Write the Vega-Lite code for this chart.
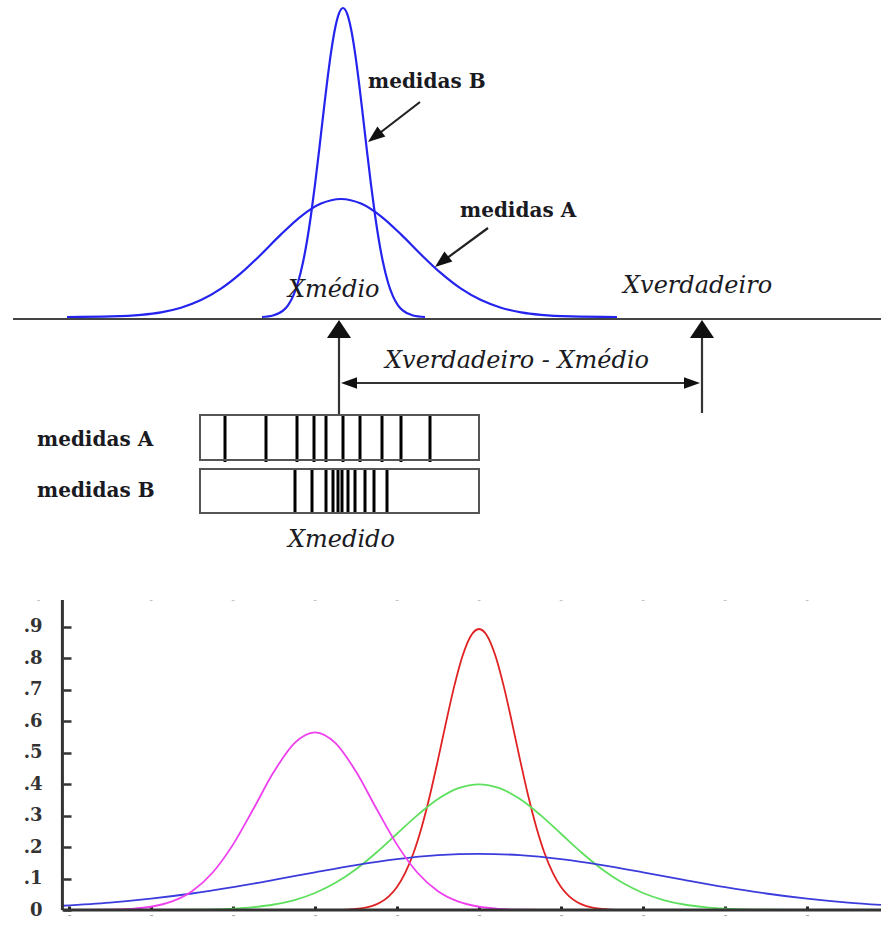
{
  "$schema": "https://vega.github.io/schema/vega-lite/v6.json",
  "width": 881,
  "height": 929,
  "autosize": {"type": "none"},
  "padding": 0,
  "background": "white",
  "config": {"view": {"stroke": null}},
  "datasets": {
    "curveA": [
      {"px": 67, "py": 317}, {"px": 111, "py": 316.4}, {"px": 141, "py": 314.8}, {"px": 161, "py": 312.3},
      {"px": 181, "py": 307.7}, {"px": 201, "py": 300.1}, {"px": 221, "py": 288.7}, {"px": 241, "py": 273.2},
      {"px": 261, "py": 254.5}, {"px": 281, "py": 234.4}, {"px": 301, "py": 216.3}, {"px": 321, "py": 203.6},
      {"px": 341, "py": 199}, {"px": 361, "py": 203.6}, {"px": 381, "py": 216.3}, {"px": 401, "py": 234.4},
      {"px": 421, "py": 254.5}, {"px": 441, "py": 273.2}, {"px": 461, "py": 288.7}, {"px": 481, "py": 300.1},
      {"px": 501, "py": 307.7}, {"px": 521, "py": 312.3}, {"px": 541, "py": 314.8}, {"px": 571, "py": 316.4},
      {"px": 617, "py": 317}
    ],
    "curveB": [
      {"px": 262, "py": 317}, {"px": 273, "py": 315.5}, {"px": 283, "py": 310.7}, {"px": 288, "py": 305.3},
      {"px": 293, "py": 296.4}, {"px": 298, "py": 282.5}, {"px": 303, "py": 262.3}, {"px": 307, "py": 241.0},
      {"px": 311, "py": 215.0}, {"px": 315, "py": 184.7}, {"px": 319, "py": 151.3}, {"px": 323, "py": 116.6},
      {"px": 327, "py": 82.8}, {"px": 331, "py": 52.6}, {"px": 335, "py": 28.7}, {"px": 339, "py": 13.3},
      {"px": 343, "py": 8}, {"px": 347, "py": 13.3}, {"px": 351, "py": 28.7}, {"px": 355, "py": 52.6},
      {"px": 359, "py": 82.8}, {"px": 363, "py": 116.6}, {"px": 367, "py": 151.3}, {"px": 371, "py": 184.7},
      {"px": 375, "py": 215.0}, {"px": 379, "py": 241.0}, {"px": 383, "py": 262.3}, {"px": 388, "py": 282.5},
      {"px": 393, "py": 296.4}, {"px": 398, "py": 305.3}, {"px": 403, "py": 310.7}, {"px": 413, "py": 315.5},
      {"px": 425, "py": 317}
    ],
    "baseline": [{"px": 13, "py": 319, "px2": 881, "py2": 319}],
    "pointers": [
      {"px": 420, "py": 102, "px2": 372, "py2": 139},
      {"px": 488, "py": 228, "px2": 439, "py2": 264}
    ],
    "shafts": [
      {"px": 339, "py": 330, "px2": 339, "py2": 415},
      {"px": 702, "py": 330, "px2": 702, "py2": 413},
      {"px": 345, "py": 383, "px2": 696, "py2": 383}
    ],
    "headsUp": [{"px": 339, "py": 320}, {"px": 702, "py": 320}],
    "headLeft": [{"px": 341, "py": 383}],
    "headRight": [{"px": 700, "py": 383}],
    "headsDiag": [{"px": 368, "py": 142}, {"px": 435, "py": 267}],
    "boxes": [
      {"px": 200, "py": 415, "px2": 479, "py2": 460},
      {"px": 200, "py": 469, "px2": 479, "py2": 513}
    ],
    "ticksA": [
      {"px": 225}, {"px": 266}, {"px": 297}, {"px": 314}, {"px": 326},
      {"px": 343}, {"px": 360}, {"px": 382}, {"px": 401}, {"px": 430}
    ],
    "ticksB": [
      {"px": 295}, {"px": 312}, {"px": 326}, {"px": 333}, {"px": 338}, {"px": 342},
      {"px": 348}, {"px": 355}, {"px": 365}, {"px": 374}, {"px": 387}
    ],
    "boldLabels": [
      {"px": 368, "py": 88, "t": "medidas B"},
      {"px": 460, "py": 217, "t": "medidas A"},
      {"px": 37, "py": 446, "t": "medidas A"},
      {"px": 37, "py": 497, "t": "medidas B"}
    ],
    "italicLabels": [
      {"px": 288, "py": 297, "t": "Xmédio"},
      {"px": 623, "py": 293, "t": "Xverdadeiro"},
      {"px": 385, "py": 368, "t": "Xverdadeiro - Xmédio"},
      {"px": 288, "py": 547, "t": "Xmedido"}
    ],
    "curves": [
      {"s": "r", "x": -2.0, "d": 0.0}, {"s": "r", "x": -1.8, "d": 0.0003}, {"s": "r", "x": -1.6, "d": 0.0015},
      {"s": "r", "x": -1.5, "d": 0.0032}, {"s": "r", "x": -1.4, "d": 0.0066}, {"s": "r", "x": -1.3, "d": 0.013},
      {"s": "r", "x": -1.2, "d": 0.0244}, {"s": "r", "x": -1.1, "d": 0.0433}, {"s": "r", "x": -1.0, "d": 0.0732},
      {"s": "r", "x": -0.9, "d": 0.1178}, {"s": "r", "x": -0.8, "d": 0.1801}, {"s": "r", "x": -0.7, "d": 0.2621},
      {"s": "r", "x": -0.6, "d": 0.3627}, {"s": "r", "x": -0.5, "d": 0.4775}, {"s": "r", "x": -0.4, "d": 0.598},
      {"s": "r", "x": -0.3, "d": 0.7124}, {"s": "r", "x": -0.2, "d": 0.8072}, {"s": "r", "x": -0.1, "d": 0.8701},
      {"s": "r", "x": 0.0, "d": 0.8921}, {"s": "r", "x": 0.1, "d": 0.8701}, {"s": "r", "x": 0.2, "d": 0.8072},
      {"s": "r", "x": 0.3, "d": 0.7124}, {"s": "r", "x": 0.4, "d": 0.598}, {"s": "r", "x": 0.5, "d": 0.4775},
      {"s": "r", "x": 0.6, "d": 0.3627}, {"s": "r", "x": 0.7, "d": 0.2621}, {"s": "r", "x": 0.8, "d": 0.1801},
      {"s": "r", "x": 0.9, "d": 0.1178}, {"s": "r", "x": 1.0, "d": 0.0732}, {"s": "r", "x": 1.1, "d": 0.0433},
      {"s": "r", "x": 1.2, "d": 0.0244}, {"s": "r", "x": 1.3, "d": 0.013}, {"s": "r", "x": 1.4, "d": 0.0066},
      {"s": "r", "x": 1.5, "d": 0.0032}, {"s": "r", "x": 1.6, "d": 0.0015}, {"s": "r", "x": 1.8, "d": 0.0003},
      {"s": "r", "x": 2.0, "d": 0.0},

      {"s": "g", "x": -4.5, "d": 0.0}, {"s": "g", "x": -4.0, "d": 0.0001}, {"s": "g", "x": -3.5, "d": 0.0009},
      {"s": "g", "x": -3.25, "d": 0.002}, {"s": "g", "x": -3.0, "d": 0.0044}, {"s": "g", "x": -2.75, "d": 0.0091},
      {"s": "g", "x": -2.5, "d": 0.0175}, {"s": "g", "x": -2.25, "d": 0.0317}, {"s": "g", "x": -2.0, "d": 0.054},
      {"s": "g", "x": -1.75, "d": 0.0863}, {"s": "g", "x": -1.5, "d": 0.1295}, {"s": "g", "x": -1.25, "d": 0.1826},
      {"s": "g", "x": -1.0, "d": 0.242}, {"s": "g", "x": -0.75, "d": 0.3011}, {"s": "g", "x": -0.5, "d": 0.3521},
      {"s": "g", "x": -0.25, "d": 0.3867}, {"s": "g", "x": 0.0, "d": 0.3989}, {"s": "g", "x": 0.25, "d": 0.3867},
      {"s": "g", "x": 0.5, "d": 0.3521}, {"s": "g", "x": 0.75, "d": 0.3011}, {"s": "g", "x": 1.0, "d": 0.242},
      {"s": "g", "x": 1.25, "d": 0.1826}, {"s": "g", "x": 1.5, "d": 0.1295}, {"s": "g", "x": 1.75, "d": 0.0863},
      {"s": "g", "x": 2.0, "d": 0.054}, {"s": "g", "x": 2.25, "d": 0.0317}, {"s": "g", "x": 2.5, "d": 0.0175},
      {"s": "g", "x": 2.75, "d": 0.0091}, {"s": "g", "x": 3.0, "d": 0.0044}, {"s": "g", "x": 3.25, "d": 0.002},
      {"s": "g", "x": 3.5, "d": 0.0009}, {"s": "g", "x": 4.0, "d": 0.0001}, {"s": "g", "x": 4.5, "d": 0.0},

      {"s": "b", "x": -5.08, "d": 0.0135}, {"s": "b", "x": -4.5, "d": 0.0235}, {"s": "b", "x": -4.0, "d": 0.036},
      {"s": "b", "x": -3.5, "d": 0.0524}, {"s": "b", "x": -3.0, "d": 0.0725}, {"s": "b", "x": -2.5, "d": 0.0955},
      {"s": "b", "x": -2.0, "d": 0.1196}, {"s": "b", "x": -1.5, "d": 0.1425}, {"s": "b", "x": -1.0, "d": 0.1614},
      {"s": "b", "x": -0.5, "d": 0.174}, {"s": "b", "x": 0.0, "d": 0.1784}, {"s": "b", "x": 0.5, "d": 0.174},
      {"s": "b", "x": 1.0, "d": 0.1614}, {"s": "b", "x": 1.5, "d": 0.1425}, {"s": "b", "x": 2.0, "d": 0.1196},
      {"s": "b", "x": 2.5, "d": 0.0955}, {"s": "b", "x": 3.0, "d": 0.0725}, {"s": "b", "x": 3.5, "d": 0.0524},
      {"s": "b", "x": 4.0, "d": 0.036}, {"s": "b", "x": 4.5, "d": 0.0235}, {"s": "b", "x": 5.0, "d": 0.0146},

      {"s": "m", "x": -5.0, "d": 0.0001}, {"s": "m", "x": -4.5, "d": 0.0011}, {"s": "m", "x": -4.25, "d": 0.0036},
      {"s": "m", "x": -4.0, "d": 0.0103}, {"s": "m", "x": -3.75, "d": 0.0264}, {"s": "m", "x": -3.5, "d": 0.0595},
      {"s": "m", "x": -3.25, "d": 0.1183}, {"s": "m", "x": -3.0, "d": 0.2076}, {"s": "m", "x": -2.75, "d": 0.3215},
      {"s": "m", "x": -2.5, "d": 0.4394}, {"s": "m", "x": -2.25, "d": 0.53}, {"s": "m", "x": -2.0, "d": 0.5642},
      {"s": "m", "x": -1.75, "d": 0.53}, {"s": "m", "x": -1.5, "d": 0.4394}, {"s": "m", "x": -1.25, "d": 0.3215},
      {"s": "m", "x": -1.0, "d": 0.2076}, {"s": "m", "x": -0.75, "d": 0.1183}, {"s": "m", "x": -0.5, "d": 0.0595},
      {"s": "m", "x": -0.25, "d": 0.0264}, {"s": "m", "x": 0.0, "d": 0.0103}, {"s": "m", "x": 0.25, "d": 0.0036},
      {"s": "m", "x": 0.5, "d": 0.0011}, {"s": "m", "x": 1.0, "d": 0.0001}
    ],
    "axisLines": [
      {"x": -5.08, "x2": -5.08, "d": 0, "d2": 0.984},
      {"x": -5.08, "x2": 4.95, "d": 0, "d2": 0}
    ],
    "topDashes": [
      {"x": -5.37}, {"x": -4}, {"x": -3}, {"x": -2}, {"x": -1}, {"x": 0}, {"x": 1}, {"x": 2}, {"x": 3}, {"x": 4}
    ]
  },
  "resolve": {"scale": {"x": "independent", "y": "independent"}},
  "layer": [
    {
      "data": {"name": "curveA"},
      "mark": {"type": "line", "color": "#2424ee", "strokeWidth": 2.2, "interpolate": "monotone"},
      "encoding": {
        "x": {"field": "px", "type": "quantitative", "scale": {"domain": [0, 881], "nice": false, "zero": false}, "axis": null},
        "y": {"field": "py", "type": "quantitative", "scale": {"domain": [0, 929], "reverse": true, "nice": false, "zero": false}, "axis": null}
      }
    },
    {
      "data": {"name": "curveB"},
      "mark": {"type": "line", "color": "#2424ee", "strokeWidth": 2.2, "interpolate": "monotone"},
      "encoding": {
        "x": {"field": "px", "type": "quantitative", "scale": {"domain": [0, 881], "nice": false, "zero": false}, "axis": null},
        "y": {"field": "py", "type": "quantitative", "scale": {"domain": [0, 929], "reverse": true, "nice": false, "zero": false}, "axis": null}
      }
    },
    {
      "data": {"name": "baseline"},
      "mark": {"type": "rule", "color": "#444", "strokeWidth": 2},
      "encoding": {
        "x": {"field": "px", "type": "quantitative", "scale": {"domain": [0, 881], "nice": false, "zero": false}, "axis": null},
        "y": {"field": "py", "type": "quantitative", "scale": {"domain": [0, 929], "reverse": true, "nice": false, "zero": false}, "axis": null},
        "x2": {"field": "px2"},
        "y2": {"field": "py2"}
      }
    },
    {
      "data": {"name": "pointers"},
      "mark": {"type": "rule", "color": "#222", "strokeWidth": 2.2},
      "encoding": {
        "x": {"field": "px", "type": "quantitative", "scale": {"domain": [0, 881], "nice": false, "zero": false}, "axis": null},
        "y": {"field": "py", "type": "quantitative", "scale": {"domain": [0, 929], "reverse": true, "nice": false, "zero": false}, "axis": null},
        "x2": {"field": "px2"},
        "y2": {"field": "py2"}
      }
    },
    {
      "data": {"name": "shafts"},
      "mark": {"type": "rule", "color": "#333", "strokeWidth": 2.2},
      "encoding": {
        "x": {"field": "px", "type": "quantitative", "scale": {"domain": [0, 881], "nice": false, "zero": false}, "axis": null},
        "y": {"field": "py", "type": "quantitative", "scale": {"domain": [0, 929], "reverse": true, "nice": false, "zero": false}, "axis": null},
        "x2": {"field": "px2"},
        "y2": {"field": "py2"}
      }
    },
    {
      "data": {"name": "headsUp"},
      "mark": {"type": "point", "shape": "M0,0L0.67,1L-0.67,1Z", "size": 1296, "filled": true, "color": "#111", "opacity": 1, "angle": 0},
      "encoding": {
        "x": {"field": "px", "type": "quantitative", "scale": {"domain": [0, 881], "nice": false, "zero": false}, "axis": null},
        "y": {"field": "py", "type": "quantitative", "scale": {"domain": [0, 929], "reverse": true, "nice": false, "zero": false}, "axis": null}
      }
    },
    {
      "data": {"name": "headLeft"},
      "mark": {"type": "point", "shape": "M0,0L0.36,1L-0.36,1Z", "size": 1024, "filled": true, "color": "#111", "opacity": 1, "angle": 270},
      "encoding": {
        "x": {"field": "px", "type": "quantitative", "scale": {"domain": [0, 881], "nice": false, "zero": false}, "axis": null},
        "y": {"field": "py", "type": "quantitative", "scale": {"domain": [0, 929], "reverse": true, "nice": false, "zero": false}, "axis": null}
      }
    },
    {
      "data": {"name": "headRight"},
      "mark": {"type": "point", "shape": "M0,0L0.36,1L-0.36,1Z", "size": 1024, "filled": true, "color": "#111", "opacity": 1, "angle": 90},
      "encoding": {
        "x": {"field": "px", "type": "quantitative", "scale": {"domain": [0, 881], "nice": false, "zero": false}, "axis": null},
        "y": {"field": "py", "type": "quantitative", "scale": {"domain": [0, 929], "reverse": true, "nice": false, "zero": false}, "axis": null}
      }
    },
    {
      "data": {"name": "headsDiag"},
      "mark": {"type": "point", "shape": "M0,0L0.38,1L-0.38,1Z", "size": 1156, "filled": true, "color": "#111", "opacity": 1, "angle": 232},
      "encoding": {
        "x": {"field": "px", "type": "quantitative", "scale": {"domain": [0, 881], "nice": false, "zero": false}, "axis": null},
        "y": {"field": "py", "type": "quantitative", "scale": {"domain": [0, 929], "reverse": true, "nice": false, "zero": false}, "axis": null}
      }
    },
    {
      "data": {"name": "ticksA"},
      "mark": {"type": "rule", "color": "#000", "strokeWidth": 3, "y": 415, "y2": 462},
      "encoding": {
        "x": {"field": "px", "type": "quantitative", "scale": {"domain": [0, 881], "nice": false, "zero": false}, "axis": null}
      }
    },
    {
      "data": {"name": "ticksB"},
      "mark": {"type": "rule", "color": "#000", "strokeWidth": 3, "y": 469, "y2": 513},
      "encoding": {
        "x": {"field": "px", "type": "quantitative", "scale": {"domain": [0, 881], "nice": false, "zero": false}, "axis": null}
      }
    },
    {
      "data": {"name": "boxes"},
      "mark": {"type": "rect", "fill": null, "stroke": "#555", "strokeWidth": 2},
      "encoding": {
        "x": {"field": "px", "type": "quantitative", "scale": {"domain": [0, 881], "nice": false, "zero": false}, "axis": null},
        "y": {"field": "py", "type": "quantitative", "scale": {"domain": [0, 929], "reverse": true, "nice": false, "zero": false}, "axis": null},
        "x2": {"field": "px2"},
        "y2": {"field": "py2"}
      }
    },
    {
      "data": {"name": "boldLabels"},
      "mark": {"type": "text", "font": "DejaVu Serif", "fontWeight": "bold", "fontSize": 20, "color": "#1a1a22", "align": "left", "baseline": "alphabetic"},
      "encoding": {
        "x": {"field": "px", "type": "quantitative", "scale": {"domain": [0, 881], "nice": false, "zero": false}, "axis": null},
        "y": {"field": "py", "type": "quantitative", "scale": {"domain": [0, 929], "reverse": true, "nice": false, "zero": false}, "axis": null},
        "text": {"field": "t"}
      }
    },
    {
      "data": {"name": "italicLabels"},
      "mark": {"type": "text", "font": "DejaVu Serif", "fontStyle": "italic", "fontSize": 24, "color": "#1a1a22", "align": "left", "baseline": "alphabetic"},
      "encoding": {
        "x": {"field": "px", "type": "quantitative", "scale": {"domain": [0, 881], "nice": false, "zero": false}, "axis": null},
        "y": {"field": "py", "type": "quantitative", "scale": {"domain": [0, 929], "reverse": true, "nice": false, "zero": false}, "axis": null},
        "text": {"field": "t"}
      }
    },
    {
      "data": {"name": "curves"},
      "mark": {"type": "line", "strokeWidth": 1.8, "interpolate": "monotone"},
      "encoding": {
        "x": {
          "field": "x", "type": "quantitative",
          "scale": {"domain": [-5.841, 4.902], "nice": false, "zero": false},
          "axis": {"orient": "bottom", "offset": -19, "domain": false, "grid": false, "title": null,
                   "values": [-5, -4, -3, -2, -1, 0, 1, 2, 3, 4], "tickSize": -4, "tickWidth": 3, "tickColor": "#222",
                   "labelExpr": "'-'", "labelColor": "#aaa", "labelFontSize": 12, "labelPadding": 3}
        },
        "y": {
          "field": "d", "type": "quantitative",
          "scale": {"domain": [-0.0603, 2.8889], "nice": false, "zero": false},
          "axis": {"orient": "left", "offset": -63, "domain": false, "grid": false, "title": null,
                   "values": [0, 0.1, 0.2, 0.3, 0.4, 0.5, 0.6, 0.7, 0.8, 0.9], "tickSize": -8, "tickWidth": 2.5, "tickColor": "#333",
                   "labelExpr": "datum.value < 0.05 ? '0' : '.' + round(datum.value * 10)",
                   "labelFont": "DejaVu Serif", "labelFontWeight": "bold", "labelFontSize": 18, "labelColor": "#333", "labelPadding": 29}
        },
        "color": {"field": "s", "type": "nominal", "scale": {"domain": ["b", "m", "g", "r"], "range": ["#3c3cdc", "#ee40ee", "#5ee05e", "#e02222"]}, "legend": null}
      }
    },
    {
      "data": {"name": "axisLines"},
      "mark": {"type": "rule", "color": "#333", "strokeWidth": 3},
      "encoding": {
        "x": {"field": "x", "type": "quantitative", "scale": {"domain": [-5.841, 4.902], "nice": false, "zero": false}, "axis": null},
        "y": {"field": "d", "type": "quantitative", "scale": {"domain": [-0.0603, 2.8889], "nice": false, "zero": false}, "axis": null},
        "x2": {"field": "x2"},
        "y2": {"field": "d2"}
      }
    },
    {
      "data": {"name": "topDashes"},
      "mark": {"type": "text", "text": "-", "fontSize": 11, "color": "#bbb", "y": 600, "baseline": "middle"},
      "encoding": {
        "x": {"field": "x", "type": "quantitative", "scale": {"domain": [-5.841, 4.902], "nice": false, "zero": false}, "axis": null}
      }
    }
  ]
}
